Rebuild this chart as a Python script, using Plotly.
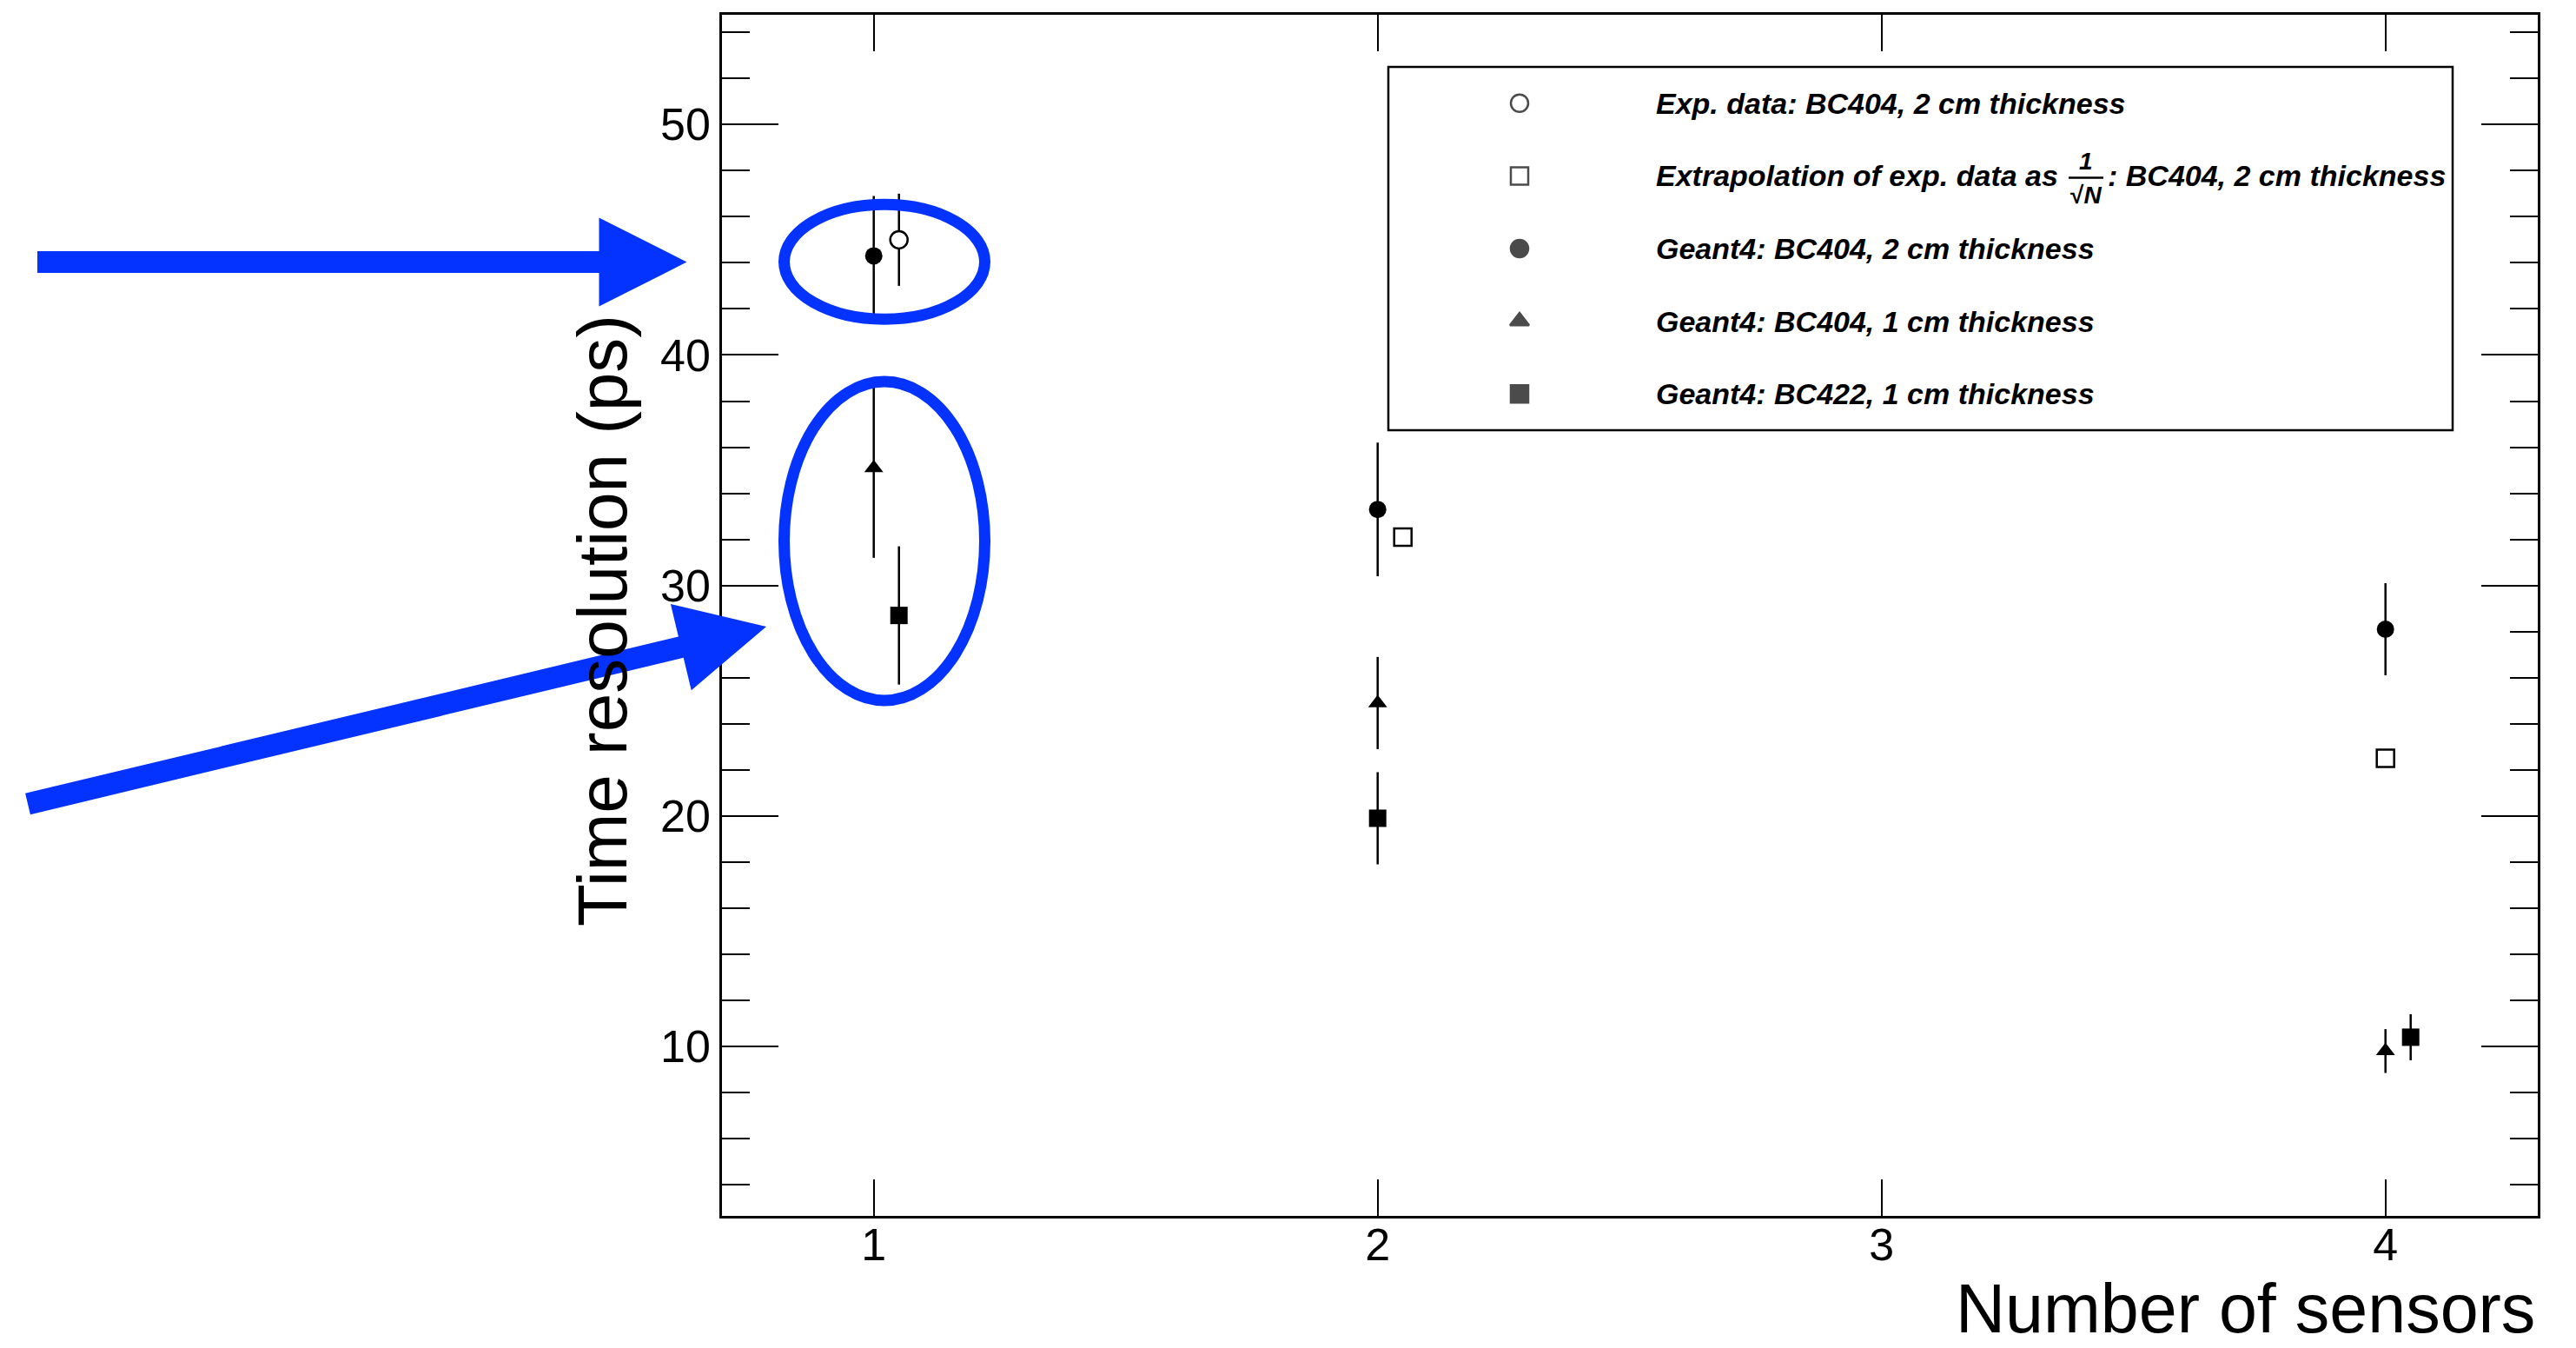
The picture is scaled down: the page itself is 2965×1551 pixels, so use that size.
import numpy as np
import plotly.graph_objects as go

# ---------------- data ----------------
exp_x = [1.05]
exp_y = [45.0]
exp_err = [2.0]

extrap_x = [2.05, 4.0]
extrap_y = [32.1, 22.5]

g4_bc404_2cm_x = [1.0, 2.0, 4.0]
g4_bc404_2cm_y = [44.3, 33.3, 28.1]
g4_bc404_2cm_err = [2.6, 2.9, 2.0]

g4_bc404_1cm_x = [1.0, 2.0, 4.0]
g4_bc404_1cm_y = [35.1, 24.9, 9.8]
g4_bc404_1cm_err = [3.9, 2.0, 0.95]

g4_bc422_1cm_x = [1.05, 2.0, 4.05]
g4_bc422_1cm_y = [28.7, 19.9, 10.4]
g4_bc422_1cm_err = [3.0, 2.0, 1.0]

x_ticks = [1, 2, 3, 4]
x_title = "Number of sensors"
y_title = "Time resolution (ps)"

legend_labels = [
    "Exp. data: BC404, 2 cm thickness",
    "Extrapolation of exp. data as",
    "Geant4: BC404, 2 cm thickness",
    "Geant4: BC404, 1 cm thickness",
    "Geant4: BC422, 1 cm thickness",
]

# ---------------- layout geometry (pixels) ----------------
W, H = 2965, 1551
L, R, T, B = 831, 2921, 17, 1399
FONT = "Liberation Sans, Arial, Helvetica, sans-serif"
BLUE = "rgb(4,51,255)"


def px(x):
    return (x - L) / (R - L)


def py(y):
    return (B - y) / (B - T)


fig = go.Figure()

err_style = dict(type="data", width=0, thickness=2.5, color="black")

fig.add_trace(go.Scatter(
    x=g4_bc404_2cm_x, y=g4_bc404_2cm_y, mode="markers",
    marker=dict(symbol="circle", size=20, color="black"),
    error_y=dict(array=g4_bc404_2cm_err, **err_style), showlegend=False))
fig.add_trace(go.Scatter(
    x=g4_bc404_1cm_x, y=g4_bc404_1cm_y, mode="markers",
    marker=dict(symbol="triangle-up", size=19, color="black"),
    error_y=dict(array=g4_bc404_1cm_err, **err_style), showlegend=False))
fig.add_trace(go.Scatter(
    x=g4_bc422_1cm_x, y=g4_bc422_1cm_y, mode="markers",
    marker=dict(symbol="square", size=20, color="black"),
    error_y=dict(array=g4_bc422_1cm_err, **err_style), showlegend=False))
fig.add_trace(go.Scatter(
    x=exp_x, y=exp_y, mode="markers",
    marker=dict(symbol="circle", size=20, color="white",
                line=dict(color="black", width=2.5)),
    error_y=dict(array=exp_err, **err_style), showlegend=False))
fig.add_trace(go.Scatter(
    x=extrap_x, y=extrap_y, mode="markers",
    marker=dict(symbol="square", size=20, color="white",
                line=dict(color="black", width=2.5)),
    showlegend=False))

# ---------------- hand-made legend (ROOT TLegend style) ----------------
leg_left, leg_right, leg_top, leg_bot = 1598, 2823, 77, 495
n_leg = len(legend_labels)
row_h = (leg_bot - leg_top) / n_leg
leg_rows = [leg_top + row_h * (i + 0.5) for i in range(n_leg)]
leg_marker_x = 1749
leg_text_x = 1904

fig.add_trace(go.Scatter(
    x=[leg_marker_x] * n_leg, y=leg_rows, mode="markers",
    xaxis="x2", yaxis="y2", showlegend=False, hoverinfo="skip",
    marker=dict(symbol=["circle", "square", "circle", "triangle-up", "square"],
                size=[20, 20, 20, 19, 20],
                color=["white", "white", "black", "black", "black"],
                line=dict(color="black", width=2.5))))

shapes = [dict(type="rect", xref="paper", yref="paper",
               x0=px(leg_left), x1=px(leg_right), y0=py(leg_bot), y1=py(leg_top),
               line=dict(color="black", width=2.5), fillcolor="rgba(0,0,0,0)",
               layer="below")]

annotations = []
for lab, yc in zip(legend_labels, leg_rows):
    annotations.append(dict(
        text="<b><i>%s</i></b>" % lab, xref="paper", yref="paper",
        x=px(leg_text_x), y=py(yc), xanchor="left", yanchor="middle",
        showarrow=False, font=dict(family=FONT, size=34, color="black")))

# fraction 1/sqrt(N) in the second legend row
frac_x = 2401
yc2 = leg_rows[1]
annotations.append(dict(text="<b><i>1</i></b>", xref="paper", yref="paper",
                        x=px(frac_x), y=py(yc2 - 17), xanchor="center", yanchor="middle",
                        showarrow=False, font=dict(family=FONT, size=28, color="black")))
annotations.append(dict(text="<b>\u221a<i>N</i></b>", xref="paper", yref="paper",
                        x=px(frac_x), y=py(yc2 + 22), xanchor="center", yanchor="middle",
                        showarrow=False, font=dict(family=FONT, size=28, color="black")))
shapes.append(dict(type="line", xref="paper", yref="paper",
                   x0=px(2381), x1=px(2421), y0=py(yc2 + 2), y1=py(yc2 + 2),
                   line=dict(color="black", width=2.5)))
annotations.append(dict(text="<b><i>: BC404, 2 cm thickness</i></b>",
                        xref="paper", yref="paper",
                        x=px(2424), y=py(yc2), xanchor="left", yanchor="middle",
                        showarrow=False, font=dict(family=FONT, size=34, color="black")))

# ---------------- axis titles ----------------
annotations.append(dict(text=y_title, xref="paper", yref="paper",
                        x=px(693), y=py(714), xanchor="center", yanchor="middle",
                        textangle=-90, showarrow=False,
                        font=dict(family=FONT, size=80, color="black")))
annotations.append(dict(text=x_title, xref="paper", yref="paper",
                        x=px(2919), y=py(1551), xanchor="right", yanchor="bottom",
                        borderpad=0, showarrow=False,
                        font=dict(family=FONT, size=79, color="black")))

# ---------------- blue highlight overlay ----------------
def poly(points):
    return "M " + " L ".join("%.5f,%.5f" % (px(a), py(b)) for a, b in points) + " Z"


def arrow(tail, tip, half_shaft=12.5, head_len=101, head_half=51):
    tail = np.array(tail, float)
    tip = np.array(tip, float)
    u = (tip - tail) / np.linalg.norm(tip - tail)
    n = np.array([-u[1], u[0]])
    base = tip - head_len * u
    pts = [tail + half_shaft * n, base + half_shaft * n, base + head_half * n, tip,
           base - head_half * n, base - half_shaft * n, tail - half_shaft * n]
    return poly(pts)


shapes.append(dict(type="path", xref="paper", yref="paper",
                   path=arrow((43, 301.5), (790.5, 301.5)),
                   fillcolor=BLUE, line=dict(width=0)))
shapes.append(dict(type="path", xref="paper", yref="paper",
                   path=arrow((32, 925), (882, 721)),
                   fillcolor=BLUE, line=dict(width=0)))

for cx, cy, rx, ry in [(1018, 301.3, 115.5, 66), (1018, 622.5, 115.5, 183.5)]:
    shapes.append(dict(type="circle", xref="paper", yref="paper",
                       x0=px(cx - rx), x1=px(cx + rx), y0=py(cy + ry), y1=py(cy - ry),
                       line=dict(color=BLUE, width=13), fillcolor="rgba(0,0,0,0)"))

# ---------------- axes ----------------
y_lo = 10 - (B - 1204) / 26.52
y_hi = 50 + (143.3 - T) / 26.52
x_lo = 1 - (1005.7 - L) / 580.0
x_hi = 4 + (R - 2745.7) / 580.0

fig.update_layout(
    width=W, height=H,
    margin=dict(l=L, r=W - R, t=T, b=H - B, pad=0),
    paper_bgcolor="white", plot_bgcolor="white",
    showlegend=False,
    font=dict(family=FONT, color="black"),
    xaxis=dict(range=[x_lo, x_hi], tickvals=x_ticks, ticktext=[str(v) for v in x_ticks],
               ticks="inside", ticklen=42, tickwidth=2, tickcolor="black",
               ticklabelstandoff=-14,
               showline=True, linewidth=2.5, linecolor="black", mirror="ticks",
               showgrid=False, zeroline=False,
               tickfont=dict(family=FONT, size=52, color="black")),
    yaxis=dict(range=[y_lo, y_hi], tick0=0, dtick=10,
               ticks="inside", ticklen=65, tickwidth=2, tickcolor="black",
               minor=dict(dtick=2, tick0=0, ticks="inside", ticklen=32, tickwidth=2,
                          tickcolor="black", showgrid=False),
               showline=True, linewidth=2.5, linecolor="black", mirror="ticks",
               showgrid=False, zeroline=False,
               tickfont=dict(family=FONT, size=52, color="black")),
    xaxis2=dict(overlaying="x", anchor="y2", range=[L, R], visible=False),
    yaxis2=dict(overlaying="y", anchor="x2", range=[B, T], visible=False),
    shapes=shapes,
    annotations=annotations,
)

fig.write_html("out.html")
